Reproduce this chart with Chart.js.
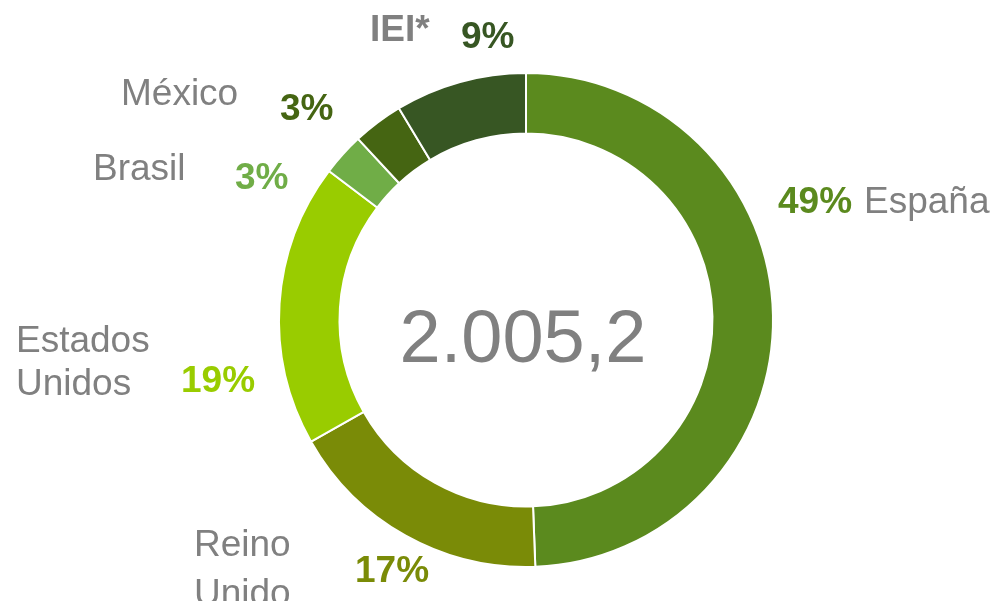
<!DOCTYPE html>
<html>
<head>
<meta charset="utf-8">
<script src="https://cdn.jsdelivr.net/npm/chart.js@4.4.1/dist/chart.umd.min.js"></script>
<style>
  html, body { margin: 0; padding: 0; background: #ffffff; }
  #wrap { width: 997px; height: 601px; position: relative; }
</style>
</head>
<body>
<div id="wrap"><canvas id="c" width="997" height="601"></canvas></div>
<script>
// ---- data ----
const categories = ["España", "Reino Unido", "Estados Unidos", "Brasil", "México", "IEI*"];
const shares = [49.4, 17.4, 18.5, 2.8, 3.3, 8.6];
const pctLabels = ["49%", "17%", "19%", "3%", "3%", "9%"];
const catLines = [["España"], ["Reino", "Unido"], ["Estados", "Unidos"], ["Brasil"], ["México"], ["IEI*"]];
const totalLabel = "2.005,2";

// ---- styles ----
const colors = ["#5B8A1E", "#7A8B07", "#99CC00", "#70AD47", "#456512", "#375623"];
const grey = "#808080";
const FONT = "'Liberation Sans', Arial, sans-serif";

// label placement (text anchors, left-aligned baselines)
const layout = [
  { cat: [864, 213], pct: [778, 213], lh: 0, catBold: false },
  { cat: [194, 556], pct: [355, 582], lh: 49, catBold: false },
  { cat: [16, 352],  pct: [181, 392], lh: 43, catBold: false },
  { cat: [93, 180],  pct: [235, 189], lh: 0, catBold: false },
  { cat: [121, 105], pct: [280, 120], lh: 0, catBold: false },
  { cat: [370, 41],  pct: [461, 48],  lh: 0, catBold: true }
];

const labelPlugin = {
  id: 'labels',
  afterDraw(chart) {
    const ctx = chart.ctx;
    ctx.save();
    ctx.textBaseline = 'alphabetic';
    ctx.textAlign = 'left';
    categories.forEach((c, i) => {
      const L = layout[i];
      ctx.fillStyle = grey;
      ctx.font = (L.catBold ? 'bold ' : '') + '37px ' + FONT;
      catLines[i].forEach((line, k) => {
        ctx.fillText(line, L.cat[0], L.cat[1] + k * L.lh);
      });
      ctx.fillStyle = colors[i];
      ctx.font = 'bold 37px ' + FONT;
      ctx.fillText(pctLabels[i], L.pct[0], L.pct[1]);
    });
    // center total
    const meta = chart.getDatasetMeta(0);
    const arc = meta.data[0];
    ctx.fillStyle = grey;
    ctx.font = '74px ' + FONT;
    ctx.textAlign = 'center';
    ctx.fillText(totalLabel, arc.x - 3, arc.y + 42);
    ctx.restore();
  }
};

new Chart(document.getElementById('c'), {
  type: 'doughnut',
  data: {
    labels: categories,
    datasets: [{
      data: shares,
      backgroundColor: colors,
      borderColor: '#ffffff',
      borderWidth: 2,
      hoverOffset: 0
    }]
  },
  options: {
    responsive: false,
    animation: false,
    cutout: '75.5%',
    rotation: 0,
    layout: { padding: { left: 278, right: 223, top: 72, bottom: 33 } },
    plugins: {
      legend: { display: false },
      tooltip: { enabled: false }
    }
  },
  plugins: [labelPlugin]
});
</script>
</body>
</html>
